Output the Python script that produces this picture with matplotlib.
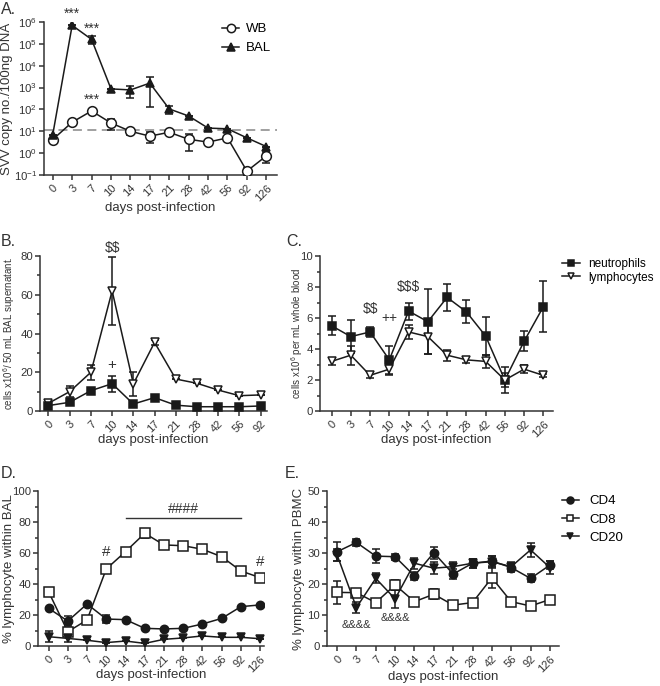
import matplotlib
matplotlib.use("Agg")
import matplotlib.pyplot as plt
from matplotlib.ticker import MultipleLocator, LogLocator, NullLocator
from matplotlib.lines import Line2D
import numpy as np

plt.rcParams['font.family'] = ['Liberation Sans', 'DejaVu Sans']
plt.rcParams['mathtext.fontset'] = 'custom'
plt.rcParams['mathtext.rm'] = 'Liberation Sans'
plt.rcParams['mathtext.it'] = 'Liberation Sans'
plt.rcParams['mathtext.default'] = 'regular'

AX_COL = '#333333'
LINE_COL = '#1a1a1a'

# ---- data ----
days_a = ['0', '3', '7', '10', '14', '17', '21', '28', '42', '56', '92', '126']
wb = [4.2, 26, 85, 24, 10, 6, 9, 4.3, 3.2, 5, 0.15, 0.75]
wb_err = [0.5, 0, 0, 12, 3, 3, 0, 3, 0, 0, 0.05, 0.4]
bal = [7, 7e5, 1.6e5, 870, 780, 1600, 105, 50, 14, 13, 5, 2]
bal_err = [0, 0, 0.6e5, 0, 430, 1470, 45, 0, 0, 0, 0, 0]
detect_limit = 11

days_b = ['0', '3', '7', '10', '14', '17', '21', '28', '42', '56', '92']
bal_neut = [2.8, 4.5, 10.5, 14.1, 3.6, 6.9, 3.0, 2.2, 2.2, 2.2, 2.6]
bal_neut_err = [0, 0, 1.5, 4.2, 0, 0, 0, 0, 0, 0, 0]
bal_lymph = [4, 10, 20, 62, 14, 35.4, 16.5, 14.3, 10.8, 7.9, 8.3]
bal_lymph_err = [0, 3, 4, 17.5, 6.3, 1.5, 0, 0, 0, 0, 0]

days_c = ['0', '3', '7', '10', '14', '17', '21', '28', '42', '56', '92', '126']
wb_neut = [5.5, 4.8, 5.1, 3.3, 6.45, 5.76, 7.33, 6.4, 4.84, 2.0, 4.5, 6.73]
wb_neut_err = [0.6, 1.05, 0.35, 0.9, 0.55, 2.1, 0.85, 0.75, 1.25, 0.85, 0.65, 1.65]
wb_lymph = [3.2, 3.6, 2.3, 2.7, 5.1, 4.8, 3.6, 3.3, 3.2, 2.0, 2.7, 2.3]
wb_lymph_err = [0.2, 0.6, 0.2, 0.35, 0.45, 1.1, 0.35, 0.2, 0.4, 0.45, 0.25, 0.1]

days_d = ['0', '3', '7', '10', '14', '17', '21', '28', '42', '56', '92', '126']
bal_cd4 = [24.3, 16.1, 27.1, 17.4, 17, 11.4, 11, 11.4, 14.2, 17.8, 25.4, 26.5]
bal_cd4_err = [0, 3, 0, 2.4, 0, 0, 0, 0, 0, 0, 0, 0]
bal_cd8 = [35, 9.2, 16.8, 49.7, 60.9, 72.7, 65.2, 64.7, 62.4, 57.6, 48.4, 44.1]
bal_cd8_err = [0, 2, 0, 0, 0, 2.8, 0, 0, 1.9, 0, 0, 2]
bal_cd20 = [6, 4.9, 3.7, 2.2, 3.2, 1.7, 4.3, 5.2, 6.5, 5.6, 5.6, 4.7]
bal_cd20_err = [3.4, 2.1, 0, 0, 0, 0, 0, 0, 0, 0, 0, 0]

days_e = ['0', '3', '7', '10', '14', '17', '21', '28', '42', '56', '92', '126']
pbmc_cd4 = [30.4, 33.4, 29.0, 28.8, 22.6, 30.1, 23.2, 26.7, 27.4, 25.3, 21.8, 26.1]
pbmc_cd4_err = [3, 1, 2.3, 1, 1.3, 1.9, 1.6, 1.5, 1.5, 1.5, 1.3, 1.3]
pbmc_cd8 = [17.3, 17.2, 14.0, 19.7, 14.3, 16.7, 13.2, 14.0, 22.0, 14.3, 12.9, 15.0]
pbmc_cd8_err = [3.6, 1.2, 0, 1.5, 0, 1.6, 0, 0, 3.4, 0, 0, 0]
pbmc_cd20 = [29.4, 12.4, 21.8, 15.2, 26.7, 25.1, 25.6, 26.7, 27.2, 25.6, 31.0, 25.3]
pbmc_cd20_err = [2, 1.7, 1.6, 2.8, 1.7, 2, 1.6, 1.5, 1.9, 1.5, 2.3, 2.1]


def style_axes(ax, labels, xlim):
    for s in ['top', 'right']:
        ax.spines[s].set_visible(False)
    for s in ['left', 'bottom']:
        ax.spines[s].set_color(AX_COL)
        ax.spines[s].set_linewidth(1.1)
    ax.set_xticks(range(len(labels)))
    ax.set_xticklabels(labels, rotation=45, ha='right', rotation_mode='anchor')
    ax.set_xlim(*xlim)
    ax.tick_params(colors=AX_COL, labelcolor=AX_COL, width=1.1, length=3.5, labelsize=8, pad=2)
    ax.tick_params(axis='y', labelsize=8.2, pad=1.5)
    ax.tick_params(which='minor', colors=AX_COL, width=1.1, length=2.2)
    ax.xaxis.set_minor_locator(NullLocator())


def set_labels(ax, ylabel, ysize, ylab_x, xlab_y):
    ax.set_ylabel(ylabel, fontsize=ysize, color=AX_COL)
    ax.set_xlabel('days post-infection', fontsize=9.5, color=AX_COL)
    ax.yaxis.set_label_coords(ylab_x, 0.5)
    ax.xaxis.set_label_coords(0.5, xlab_y)


def draw_series(ax, vals, errs, marker, fill, ms=6):
    x = np.arange(len(vals))
    ax.errorbar(x, vals, yerr=errs, color=LINE_COL, lw=1.1, capsize=3, capthick=1.1,
                elinewidth=1.1, marker=marker, ms=ms, mfc=LINE_COL if fill else 'white',
                mec=LINE_COL, mew=1.1, zorder=3)


def handle(marker, fill, ms=5):
    return Line2D([], [], color=LINE_COL, lw=1.1, marker=marker, ms=ms,
                  mfc=LINE_COL if fill else 'white', mec=LINE_COL, mew=1.1)


def note(ax, x, y, s, size=10, va='center'):
    ax.text(x, y, s, ha='center', va=va, fontsize=size, color=AX_COL, parse_math=False)


fig = plt.figure(figsize=(6.6, 6.86), dpi=100)

# ---- A ----
axA = fig.add_axes([44 / 660, 1 - 175 / 686, 233 / 660, 153 / 686])
draw_series(axA, wb, wb_err, 'o', False, ms=7)
draw_series(axA, bal, bal_err, '^', True, ms=6)
axA.axhline(detect_limit, color='#999999', ls=(0, (5, 3)), lw=1.3, zorder=1)
axA.set_yscale('log')
axA.set_ylim(0.1, 1e6)
axA.yaxis.set_major_locator(LogLocator(base=10, numticks=10))
axA.yaxis.set_minor_locator(NullLocator())
style_axes(axA, days_a, (-0.45, 11.55))
set_labels(axA, 'SVV copy no./100ng DNA', 9.5, -0.135, -0.176)
for xi, yi in [(1, 1.1e6), (2, 2.4e5), (2, 1.3e2)]:
    note(axA, xi, yi, '***', va='bottom')
axA.legend([handle('o', False, 6), handle('^', True, 5.5)], ['WB', 'BAL'],
           loc='upper left', bbox_to_anchor=(0.714, 1.07), frameon=False, fontsize=9.5,
           handlelength=1.3, labelspacing=0.5, handletextpad=0.5)

# ---- B ----
axB = fig.add_axes([40 / 660, 1 - 411 / 686, 227 / 660, 155 / 686])
draw_series(axB, bal_lymph, bal_lymph_err, 'v', False)
draw_series(axB, bal_neut, bal_neut_err, 's', True)
axB.set_ylim(0, 80)
axB.yaxis.set_major_locator(MultipleLocator(20))
axB.yaxis.set_minor_locator(MultipleLocator(10))
style_axes(axB, days_b, (-0.4, 10.3))
set_labels(axB, r'cells x10$^{6}$/ 50 mL BAL supernatant.', 7, -0.1, -0.148)
note(axB, 3, 80.5, '$$', va='bottom')
note(axB, 3, 24, '+', size=11)

# ---- C ----
axC = fig.add_axes([320 / 660, 1 - 411 / 686, 233 / 660, 155 / 686])
draw_series(axC, wb_neut, wb_neut_err, 's', True)
draw_series(axC, wb_lymph, wb_lymph_err, 'v', False)
axC.set_ylim(0, 10)
axC.yaxis.set_major_locator(MultipleLocator(2))
axC.yaxis.set_minor_locator(MultipleLocator(1))
style_axes(axC, days_c, (-0.6, 11.5))
set_labels(axC, r'cells x10$^{6}$ per mL whole blood', 7, -0.064, -0.148)
note(axC, 2, 6.6, '$$')
note(axC, 3, 6.0, '++')
note(axC, 4, 8.0, '$$$')
axC.legend([handle('s', True, 4.5), handle('v', False, 4.5)], ['neutrophils', 'lymphocytes'],
           loc='upper left', bbox_to_anchor=(1.01, 1.03), frameon=False, fontsize=8.5,
           handlelength=1.5, labelspacing=0.1, handletextpad=0.7, borderaxespad=0.2)

# ---- D ----
axD = fig.add_axes([38 / 660, 1 - 646 / 686, 226 / 660, 155 / 686])
draw_series(axD, bal_cd4, bal_cd4_err, 'o', True)
draw_series(axD, bal_cd8, bal_cd8_err, 's', False, ms=7)
draw_series(axD, bal_cd20, bal_cd20_err, 'v', True)
axD.set_ylim(0, 100)
axD.yaxis.set_major_locator(MultipleLocator(20))
axD.yaxis.set_minor_locator(MultipleLocator(10))
style_axes(axD, days_d, (-0.55, 11.2))
set_labels(axD, '% lymphocyte within BAL', 9.5, -0.102, -0.15)
note(axD, 3, 56, '#', size=11, va='bottom')
note(axD, 11, 50, '#', size=11, va='bottom')
axD.plot([4, 10], [82.5, 82.5], color=AX_COL, lw=1)
note(axD, 7, 84, '####', va='bottom')

# ---- E ----
axE = fig.add_axes([327 / 660, 1 - 646 / 686, 232 / 660, 155 / 686])
draw_series(axE, pbmc_cd4, pbmc_cd4_err, 'o', True)
draw_series(axE, pbmc_cd8, pbmc_cd8_err, 's', False, ms=7)
draw_series(axE, pbmc_cd20, pbmc_cd20_err, 'v', True)
axE.set_ylim(0, 50)
axE.yaxis.set_major_locator(MultipleLocator(10))
axE.yaxis.set_minor_locator(MultipleLocator(5))
style_axes(axE, days_e, (-0.52, 11.47))
set_labels(axE, '% lymphocyte within PBMC', 9.5, -0.095, -0.16)
note(axE, 1, 6.8, '&&&&', size=8)
note(axE, 3, 8.9, '&&&&', size=8)
axE.legend([handle('o', True), handle('s', False), handle('v', True)], ['CD4', 'CD8', 'CD20'],
           loc='upper left', bbox_to_anchor=(0.96, 1.05), frameon=False, fontsize=9.5,
           handlelength=1.3, labelspacing=0.45, handletextpad=0.8)

# panel letters
for lab, (px, py) in {'A.': (1, 2), 'B.': (1, 234), 'C.': (286, 234),
                      'D.': (1, 466), 'E.': (285, 466)}.items():
    fig.text(px / 660, 1 - py / 686, lab, ha='left', va='top', fontsize=11.5, color=AX_COL)

fig.savefig('out.png', dpi=100)
